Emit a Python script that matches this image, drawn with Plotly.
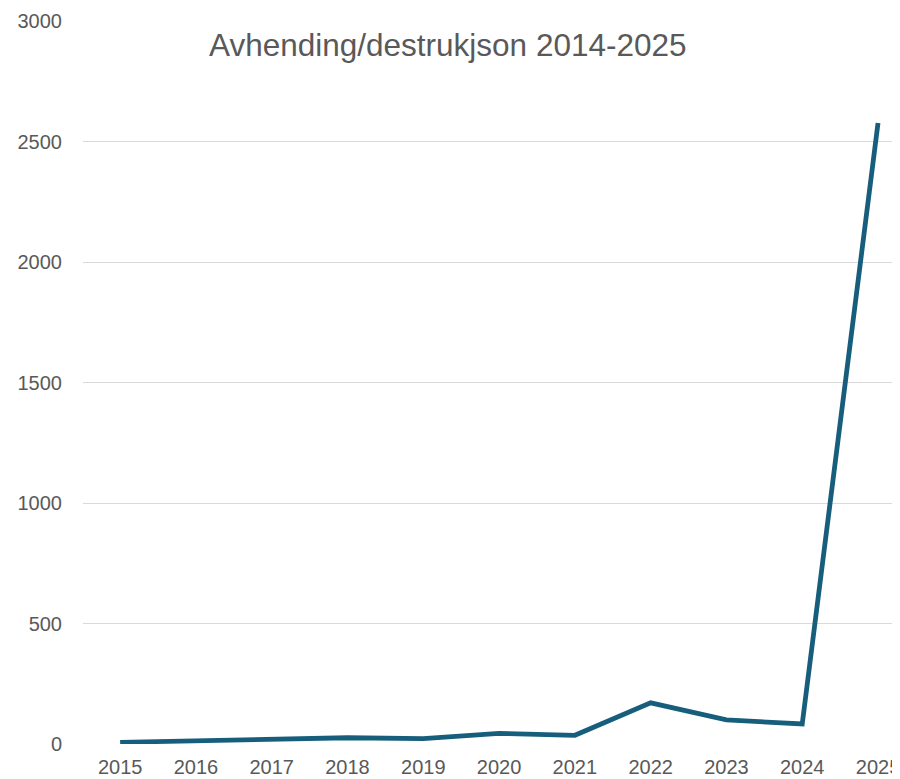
import plotly.graph_objects as go

years = [2015, 2016, 2017, 2018, 2019, 2020, 2021, 2022, 2023, 2024, 2025]
values = [7, 12, 19, 26, 22, 44, 36, 171, 100, 83, 2577]
y_ticks = [0, 500, 1000, 1500, 2000, 2500, 3000]

fig = go.Figure()
fig.add_trace(go.Scatter(
    x=years, y=values, mode="lines",
    line=dict(color="#175E7C", width=4.8),
    hoverinfo="x+y",
))

# page body has an 8px default margin, so the figure is sized/offset to compensate
fig.update_layout(
    width=892, height=771,
    margin=dict(l=75, r=0, t=13, b=35),
    paper_bgcolor="white", plot_bgcolor="white",
    showlegend=False,
    font=dict(family="Liberation Sans, Arial, sans-serif", color="#595959", size=20),
    xaxis=dict(
        range=[2014.51, 2025.29], tickmode="array", tickvals=years,
        ticktext=[str(y) for y in years], showgrid=False, zeroline=False,
        showline=False, ticks="", automargin=False, ticklabelstandoff=9,
        ticklabeloverflow="allow",
        tickfont=dict(size=20, color="#595959"),
    ),
    yaxis=dict(
        range=[0, 3000], tickmode="array", tickvals=y_ticks,
        ticktext=[str(t) for t in y_ticks], showgrid=True, gridcolor="#D9D9D9",
        gridwidth=1.3, zeroline=False, showline=False, ticks="", automargin=False,
        ticklabelstandoff=20, ticklabeloverflow="allow",
        tickfont=dict(size=20, color="#595959"),
    ),
    annotations=[dict(
        text="Avhending/destrukjson 2014-2025", xref="paper", yref="paper",
        x=0.447, y=0.967, xanchor="center", yanchor="middle", showarrow=False,
        font=dict(size=31.5, color="#595959", family="Liberation Sans, Arial, sans-serif"),
    )],
)

fig.write_html("out.html")
